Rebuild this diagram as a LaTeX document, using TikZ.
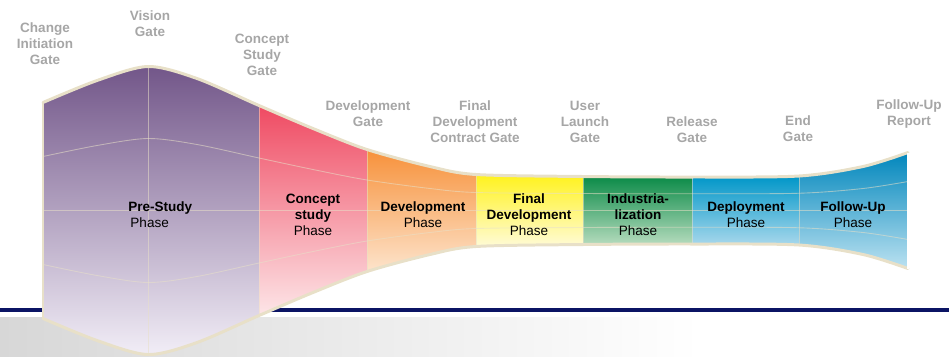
\documentclass[tikz,border=0pt]{standalone}
\usepackage{fontspec}
\setmainfont{Liberation Sans}
\definecolor{gatetext}{HTML}{A6A6A6}
\definecolor{navyline}{HTML}{0B1464}
\definecolor{bandgray}{HTML}{D7D7D7}
\definecolor{rimcream}{HTML}{E8E0C8}
\definecolor{pretop}{HTML}{725689}
\definecolor{prebot}{HTML}{F2EEF7}
\definecolor{contop}{HTML}{EF4A62}
\definecolor{conbot}{HTML}{FDE6E8}
\definecolor{devtop}{HTML}{F7913A}
\definecolor{devbot}{HTML}{FDE4CC}
\definecolor{fintop}{HTML}{FFF21C}
\definecolor{finbot}{HTML}{FFFBD8}
\definecolor{indtop}{HTML}{0A8A47}
\definecolor{indbot}{HTML}{B6DCBE}
\definecolor{deptop}{HTML}{0096C8}
\definecolor{depbot}{HTML}{A8D8EC}
\definecolor{foltop}{HTML}{0086BC}
\definecolor{folbot}{HTML}{BCE2F1}
\begin{document}
\begin{tikzpicture}[x=0.02cm,y=-0.02cm,
    gatelabel/.style={align=center,text=gatetext,inner sep=0pt,font=\fontsize{7.7}{9.1}\selectfont\bfseries},
    phaselabel/.style={align=center,inner sep=0pt,font=\fontsize{7.7}{9.1}\selectfont},
    gridline/.style={draw=rimcream,draw opacity=0.55,line width=0.5pt},
    rim/.style={draw=rimcream,line width=1.7pt,line cap=round}]
    \useasboundingbox (0,0) rectangle (949,356);

    \shade[left color=bandgray,right color=white] (0,317) rectangle (700,356);
    \fill[navyline] (0,307.5) rectangle (949,312);

    \begin{scope}
        \clip plot[smooth] coordinates {(43,102.5) (97,80.5) (148,66.5) (197,78.5) (259,105.5) (313,128.5) (367,149.5) (430,166.5) (476,174.5) (583,176.5) (692,177) (799,176) (863,166.5) (908,152.5)}
            -- plot[smooth] coordinates {(908,268.5) (863,254.5) (799,245) (692,244) (583,244.5) (476,246.5) (430,254.5) (367,271.5) (313,292.5) (259,315.5) (197,342.5) (148,354.5) (97,340.5) (43,318.5)} -- cycle;

        \shade[top color=pretop,bottom color=prebot] (43,66) rectangle (259,356);
        \shade[top color=contop,bottom color=conbot] (259,105) rectangle (367,316);
        \shade[top color=devtop,bottom color=devbot] (367,149) rectangle (476,272);
        \shade[top color=fintop,bottom color=finbot] (476,174) rectangle (583,247);
        \shade[top color=indtop,bottom color=indbot] (583,176) rectangle (692,245);
        \shade[top color=deptop,bottom color=depbot] (692,176) rectangle (799,245);
        \shade[top color=foltop,bottom color=folbot] (799,152) rectangle (908,269);

        \foreach \gx in {148,259,367,476,583,692,799}
            \draw[gridline] (\gx,60) -- (\gx,360);
        \draw[gridline] (43,210.5) -- (908,210.5);
        \draw[gridline] plot[smooth] coordinates {(43,156.5) (97,145.5) (148,138.5) (197,144.5) (259,158) (313,169.5) (367,180) (430,188.5) (476,192.5) (583,193.5) (692,193.75) (799,193.25) (863,188.5) (908,181.5)};
        \draw[gridline] plot[smooth] coordinates {(43,264.5) (97,275.5) (148,282.5) (197,276.5) (259,263) (313,251.5) (367,241) (430,232.5) (476,228.5) (583,227.5) (692,227.25) (799,227.75) (863,232.5) (908,239.5)};
    \end{scope}

    \draw[rim] plot[smooth] coordinates {(43,102.5) (97,80.5) (148,66.5) (197,78.5) (259,105.5) (313,128.5) (367,149.5) (430,166.5) (476,174.5) (583,176.5) (692,177) (799,176) (863,166.5) (908,152.5)};
    \draw[rim] plot[smooth] coordinates {(43,318.5) (97,340.5) (148,354.5) (197,342.5) (259,315.5) (313,292.5) (367,271.5) (430,254.5) (476,246.5) (583,244.5) (692,244) (799,245) (863,254.5) (908,268.5)};
    \draw[rimcream,line width=0.6pt] (43,102.5) -- (43,318.5);
    \draw[white,line width=0.6pt] (908,152.5) -- (908,268.5);

    \node[gatelabel] (gchange) at (45,44) {Change\\Initiation\\Gate};
    \node[gatelabel] (gvision) at (150,24) {Vision\\Gate};
    \node[gatelabel] (gconcept) at (262,55) {Concept\\Study\\Gate};
    \node[gatelabel] (gdev) at (368,114) {Development\\Gate};
    \node[gatelabel] (gfinal) at (475,122) {Final\\Development\\Contract Gate};
    \node[gatelabel] (guser) at (585,122) {User\\Launch\\Gate};
    \node[gatelabel] (grelease) at (692,130) {Release\\Gate};
    \node[gatelabel] (gend) at (798,129) {End\\Gate};
    \node[gatelabel] (gfollow) at (909,114) {Follow-Up\\Report};

    \node[phaselabel,align=left,anchor=west] (pprestudy) at (128,214.5) {\textbf{Pre-Study}\\\hspace{1.2pt}Phase};
    \node[phaselabel] (pconcept) at (313,215) {\textbf{Concept}\\\textbf{study}\\Phase};
    \node[phaselabel] (pdev) at (423,214.5) {\textbf{Development}\\Phase};
    \node[phaselabel] (pfinal) at (529,215) {\textbf{Final}\\\textbf{Development}\\Phase};
    \node[phaselabel] (pind) at (638,215) {\textbf{Industria-}\\\textbf{lization}\\Phase};
    \node[phaselabel] (pdeploy) at (746,214.5) {\textbf{Deployment}\\Phase};
    \node[phaselabel] (pfollow) at (853,214.5) {\textbf{Follow-Up}\\Phase};
\end{tikzpicture}
\end{document}
